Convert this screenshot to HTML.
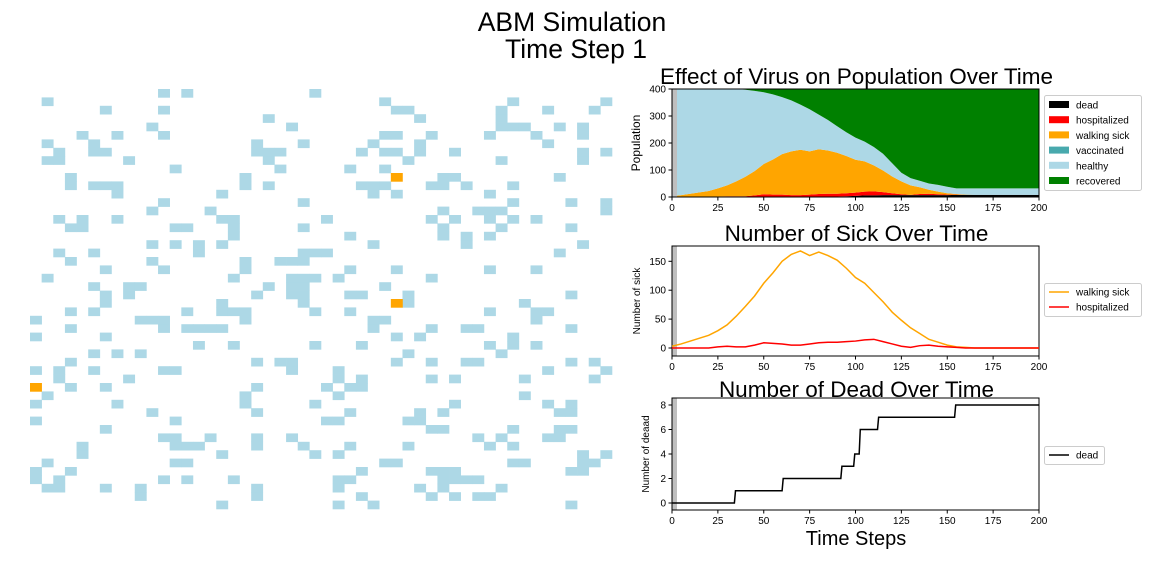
<!DOCTYPE html>
<html><head><meta charset="utf-8"><style>
html,body{margin:0;padding:0;background:#fff;}
svg{display:block;font-family:"Liberation Sans","DejaVu Sans",sans-serif;}
</style></head><body>
<svg id="root" width="1152" height="576" viewBox="0 0 1152 576" xmlns="http://www.w3.org/2000/svg">
<text x="572" y="31" font-size="26.5" text-anchor="middle">ABM Simulation</text>
<text x="576" y="58" font-size="26.5" text-anchor="middle">Time Step 1</text>
<g id="grid"></g>
<g id="c1"></g>
<g id="c2"></g>
<g id="c3"></g>
</svg>
<script>
// grid cells: row -> columns (lightblue), orange agents listed separately
const gridRows = [
[11,13,24],[1,30,41,49],[6,11,31,32,40,44,48],[20,33,40],[10,22,40,41,42,45,47],
[4,7,11,30,31,34,39,43,47],[1,5,19,23,29,33,44],[2,5,6,19,20,21,28,30,31,33,36,47,49],[1,2,8,20,32,40,47],[12,21,27,30],
[3,18,35,36,45],[3,5,6,7,18,20,28,29,30,34,35,37,41],[7,16,29,31,39],[11,23,41,46,49],[10,15,35,38,39,40,49],
[2,4,7,16,17,25,34,36,39,41,43],[3,4,12,13,17,23,35,40,46],[17,27,35,37,39],[10,12,14,16,29,37,47],[2,5,14,23,24,25,45],
[3,10,18,21,22,23],[6,11,18,27,31,39,43],[1,17,22,23,24,26,34],[5,8,9,20,22,23,30],[6,8,19,22,23,27,28,32,46],
[6,16,23,32,42],[3,5,13,16,17,18,24,27,39,43,44],[0,9,10,11,18,29,30,43],[3,11,13,14,15,16,29,34,37,38,46],[0,6,31,33,41],
[14,17,24,28,39,41,43],[5,7,9,32,40],[3,19,21,22,31,34,37,38,46,48],[0,2,5,11,12,22,26,44,49],[2,8,26,28,34,36,42,48],
[3,6,19,25,27,28],[1,18,26,42],[0,7,18,24,36,44,46],[10,19,27,33,35,45,46],[0,12,25,26,32,33],
[6,34,35,41,45,46],[11,12,15,19,22,38,40,44,45],[4,12,13,14,19,23,27,32,39,41],[4,16,24,26,47,49],[1,12,13,30,31,41,42,47,48],
[0,3,28,34,35,36,46,47],[0,2,11,13,17,26,27,35,36,37,38],[1,2,6,9,19,26,33,35,40],[9,19,28,34,36,38,39],[16,26,29,46]
];
const orangeCells = [[10,31],[25,31],[35,0]];

// time series sampled every 5 steps (t = 0..200)
const times = [0,5,10,15,20,25,30,35,40,45,50,55,60,65,70,75,80,85,90,95,100,105,110,115,120,125,130,135,140,145,150,155,160,165,170,175,180,185,190,195,200];
const walkingSick = [3,7,12,17,22,30,40,55,72,90,112,130,150,162,168,160,166,160,152,138,122,112,96,80,62,48,35,25,15,10,5,2,1,0,0,0,0,0,0,0,0];
const hospitalized = [0,0,0,0,0,2,3,2,2,5,9,8,7,5,5,7,9,10,10,11,12,14,15,11,7,3,1,4,5,3,2,1,0,0,0,0,0,0,0,0,0];
const deadSampled = [0,0,0,0,0,0,0,1,1,1,1,1,2,2,2,2,2,2,2,3,4,6,6,7,7,7,7,7,7,7,7,8,8,8,8,8,8,8,8,8,8];
const vaccinated = [0,0,0,0,0,0,0,0,0,0,0,0,0,0,0,0,0,0,0,0,0,0,0,0,0,0,0,0,0,0,0,0,0,0,0,0,0,0,0,0,0];
const recovered = [0,0,0,0,0,0,0,0,3,7,12,20,30,42,58,75,95,115,138,160,180,195,215,240,275,310,330,340,350,355,362,368,368,368,368,368,368,368,368,368,368];
const population = 400;
const deadStepTimes = [34,60,92,99,102,112,154];
const deadStepCounts = [1,2,3,4,6,7,8];
const xTicks = [0,25,50,75,100,125,150,175,200];
const popTicks = [0,100,200,300,400];
const sickTicks = [0,50,100,150];
const deadTicks = [0,2,4,6,8];

const NS="http://www.w3.org/2000/svg";
function mk(parent,tag,attrs){const e=document.createElementNS(NS,tag);for(const k in attrs)e.setAttribute(k,attrs[k]);parent.appendChild(e);return e;}

// ---- grid
const grid=document.getElementById('grid');
const gx0=30, gy0=89, cw=11.64, ch=8.4;
gridRows.forEach((cols,r)=>cols.forEach(c=>{
  const e=mk(grid,'rect',{x:gx0+c*cw,y:gy0+r*ch,width:cw+0.3,height:ch+0.3,fill:'#add8e6'});
  
  
}));
orangeCells.forEach(([r,c])=>{
  const e=mk(grid,'rect',{x:gx0+c*cw,y:gy0+r*ch,width:cw+0.3,height:ch+0.3,fill:'#ffa500'});
  
  
});

// ---- axes helpers
const X0=672, X1=1039;
const xs=t=>X0+(t/200)*(X1-X0);
function axes(g,top,bot,yfun,yticks,ylabel,ylabelX,ylabelSize,title,titleY){
  mk(g,'rect',{x:X0,y:top,width:5,height:bot-top,fill:'#bfbfbf'});
  const fr=mk(g,'rect',{x:X0,y:top,width:X1-X0,height:bot-top,fill:'none',stroke:'#000','stroke-width':1});
  
  xTicks.forEach(t=>{
    mk(g,'line',{x1:xs(t),x2:xs(t),y1:bot,y2:bot+3.5,stroke:'#000'});
    const tx=mk(g,'text',{x:xs(t),y:bot+14,'font-size':10,'text-anchor':'middle'});tx.textContent=t;
    
  });
  yticks.forEach(v=>{
    mk(g,'line',{x1:X0-3.5,x2:X0,y1:yfun(v),y2:yfun(v),stroke:'#000'});
    const tx=mk(g,'text',{x:X0-6,y:yfun(v)+3.5,'font-size':10,'text-anchor':'end'});tx.textContent=v;
    
  });
  const yl=mk(g,'text',{x:ylabelX,y:(top+bot)/2,'font-size':ylabelSize,'text-anchor':'middle',transform:`rotate(-90 ${ylabelX} ${(top+bot)/2})`});
  yl.textContent=ylabel;
  
  const ti=mk(g,'text',{x:(X0+X1)/2+1,y:titleY,'font-size':22.5,'text-anchor':'middle'});ti.textContent=title;
  
}

// ---- chart 1 stacked area
const c1=document.getElementById('c1');
const T1=89,B1=197;
const y1=v=>B1-(v/400)*(B1-T1);
const healthy=times.map((t,i)=>population-recovered[i]-deadSampled[i]-hospitalized[i]-walkingSick[i]-vaccinated[i]);
const layers=[['dead',deadSampled,'#000000'],['hospitalized',hospitalized,'#ff0000'],['walking sick',walkingSick,'#ffa500'],['vaccinated',vaccinated,'#48a9ad'],['healthy',healthy,'#add8e6'],['recovered',recovered,'#008000']];
let base=times.map(()=>0);
const areaG=mk(c1,'g',{});
layers.forEach(([name,vals,col])=>{
  const top=base.map((b,i)=>b+vals[i]);
  let d='M'+times.map((t,i)=>xs(t)+','+y1(top[i])).join('L');
  for(let i=times.length-1;i>=0;i--) d+='L'+xs(times[i])+','+y1(base[i]);
  const p=mk(areaG,'path',{d:d+'Z',fill:col,stroke:'none'});
  
  
  base=top;
});
axes(c1,T1,B1,y1,popTicks,'Population',640,12,'Effect of Virus on Population Over Time',84);
const lg1=mk(c1,'g',{});

mk(lg1,'rect',{x:1044.5,y:95.5,width:97,height:95,fill:'#fff',stroke:'#ccc',rx:2});
layers.forEach(([name,vals,col],i)=>{
  const yy=105+i*15.2;
  mk(lg1,'rect',{x:1049,y:yy-4,width:20,height:7,fill:col});
  const t=mk(lg1,'text',{x:1076,y:yy+3.5,'font-size':10});t.textContent=name;
  
});

// ---- chart 2 lines
const c2=document.getElementById('c2');
const T2=246,B2=356;
const y2=v=>348-v*0.578;
axes(c2,T2,B2,y2,sickTicks,'Number of sick',640,10,'Number of Sick Over Time',241);
function line(g,vals,col,name){
  const p=mk(g,'path',{d:'M'+times.map((t,i)=>xs(t)+','+y2(vals[i])).join('L'),fill:'none',stroke:col,'stroke-width':1.5});
  
  
}
line(c2,walkingSick,'#ffa500','walking-sick-line');
line(c2,hospitalized,'#ff0000','hospitalized-line');
const lg2=mk(c2,'g',{});

mk(lg2,'rect',{x:1044.5,y:283.5,width:97,height:33,fill:'#fff',stroke:'#ccc',rx:2});
[['walking sick','#ffa500'],['hospitalized','#ff0000']].forEach(([n,c],i)=>{
  const yy=292+i*15;
  mk(lg2,'line',{x1:1049,x2:1069,y1:yy,y2:yy,stroke:c,'stroke-width':1.5});
  const t=mk(lg2,'text',{x:1076,y:yy+3.5,'font-size':10});t.textContent=n;
  
});

// ---- chart 3 step line
const c3=document.getElementById('c3');
const T3=398,B3=510;
const y3=v=>503-v*12.25;
axes(c3,T3,B3,y3,deadTicks,'Number of deaad',649,10,'Number of Dead Over Time',397);
let d3='M'+xs(0)+','+y3(0);
let prev=0;
deadStepTimes.forEach((t,i)=>{d3+='L'+xs(t)+','+y3(prev)+'L'+xs(t+0.6)+','+y3(deadStepCounts[i]);prev=deadStepCounts[i];});
d3+='L'+xs(200)+','+y3(prev);
const dl=mk(c3,'path',{d:d3,fill:'none',stroke:'#000','stroke-width':1.5});


const lg3=mk(c3,'g',{});

mk(lg3,'rect',{x:1044.5,y:446.5,width:60,height:18,fill:'#fff',stroke:'#ccc',rx:2});
mk(lg3,'line',{x1:1049,x2:1069,y1:455,y2:455,stroke:'#000','stroke-width':1.5});
const dt=mk(lg3,'text',{x:1076,y:458.5,'font-size':10});dt.textContent='dead';

const xl=mk(c3,'text',{x:856,y:545,'font-size':20,'text-anchor':'middle'});xl.textContent='Time Steps';

</script>
</body></html>
